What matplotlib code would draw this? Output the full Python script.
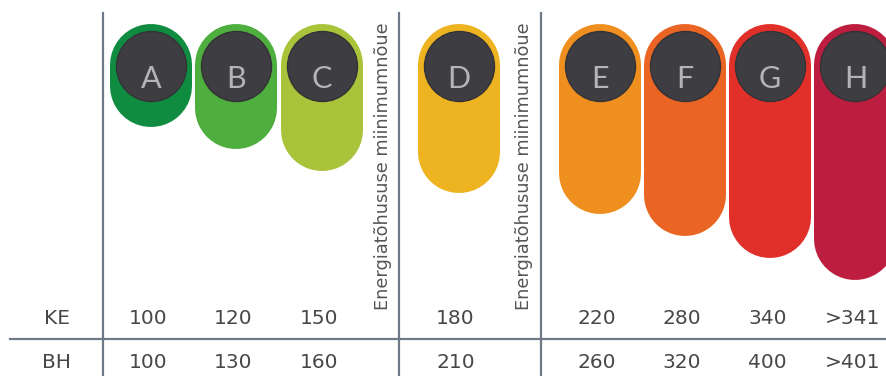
import matplotlib
matplotlib.use("Agg")
import matplotlib.pyplot as plt

# Energy classes, their KE / BH limits and the depth level of each pill
classes = ["A", "B", "C", "D", "E", "F", "G", "H"]
ke_values = ["100", "120", "150", "180", "220", "280", "340", ">341"]
bh_values = ["100", "130", "160", "210", "260", "320", "400", ">401"]
pill_level = [1, 2, 3, 4, 5, 6, 7, 8]
class_colors = ["#0f8c40", "#4eae3e", "#a9c33a", "#edb320", "#ef8f1f",
                "#ea6424", "#e1302a", "#bd1e3f"]
row_labels = ["KE", "BH"]
divider_note = "Energiatõhususe miinimumnõue"

W, H = 887, 376
DPI = 100
fig = plt.figure(figsize=(W / DPI, H / DPI), dpi=DPI)

# Column centres (pixels); wider gaps where the requirement notes sit
step = 85.3
gaps = [0, step, step, 137, 141, step, step, step]
xs = []
x = 151.0
for g in gaps:
    x += g
    xs.append(x)

# Pill axes: x in pixels, y in level units (level -> pixel 105 + 21.9 * level)
px_per_level = 21.9
y0 = 105.0
ax_p = fig.add_axes([0, 0, 1, 1])
ax_p.set_xlim(0, W)
ax_p.set_ylim((H - y0) / px_per_level, (0 - y0) / px_per_level)
ax_p.axis("off")

pill_w_px = 82
pill_r_lv = pill_w_px / 2 / px_per_level
top_cap_lv = (65 - y0) / px_per_level
lw_pt = pill_w_px * 72 / DPI
for xc, lvl, col in zip(xs, pill_level, class_colors):
    ax_p.plot([xc, xc], [top_cap_lv, lvl - pill_r_lv], color=col,
              linewidth=lw_pt, solid_capstyle="round", zorder=2)

circle_d_pt = 70 * 72 / DPI
circle_lv = (66 - y0) / px_per_level
ax_p.scatter(xs, [circle_lv] * len(xs), s=circle_d_pt ** 2, color="#3e3d41",
             edgecolors="#333236", linewidths=1.0, zorder=3)

# Text / rule axes in pixel coordinates
ax = fig.add_axes([0, 0, 1, 1])
ax.set_xlim(0, W)
ax.set_ylim(H, 0)
ax.axis("off")
ax.patch.set_alpha(0)

for xc, letter in zip(xs, classes):
    ax.text(xc, 79, letter, ha="center", va="center", fontsize=22,
            color="#b4b4b8", family=["Lato", "DejaVu Sans"],
            fontweight="normal", zorder=4)

rule_color = "#6f7a88"
for xv in (103, 399, 541):
    ax.plot([xv, xv], [13, H], color=rule_color, linewidth=1.6)
ax.plot([10, W], [339, 339], color=rule_color, linewidth=1.6)

for xv in (383, 524):
    ax.text(xv, 166, divider_note, rotation=90, ha="center", va="center",
            fontsize=12.8, color="#555555")

text_kw = dict(ha="center", va="center", fontsize=14.5, color="#474747")
ax.text(57, 318, row_labels[0], **text_kw)
ax.text(57, 362, row_labels[1], **text_kw)
for xc, ke, bh in zip(xs, ke_values, bh_values):
    ax.text(xc - 3, 318, ke, **text_kw)
    ax.text(xc - 3, 362, bh, **text_kw)

fig.savefig("out.png", dpi=DPI)
